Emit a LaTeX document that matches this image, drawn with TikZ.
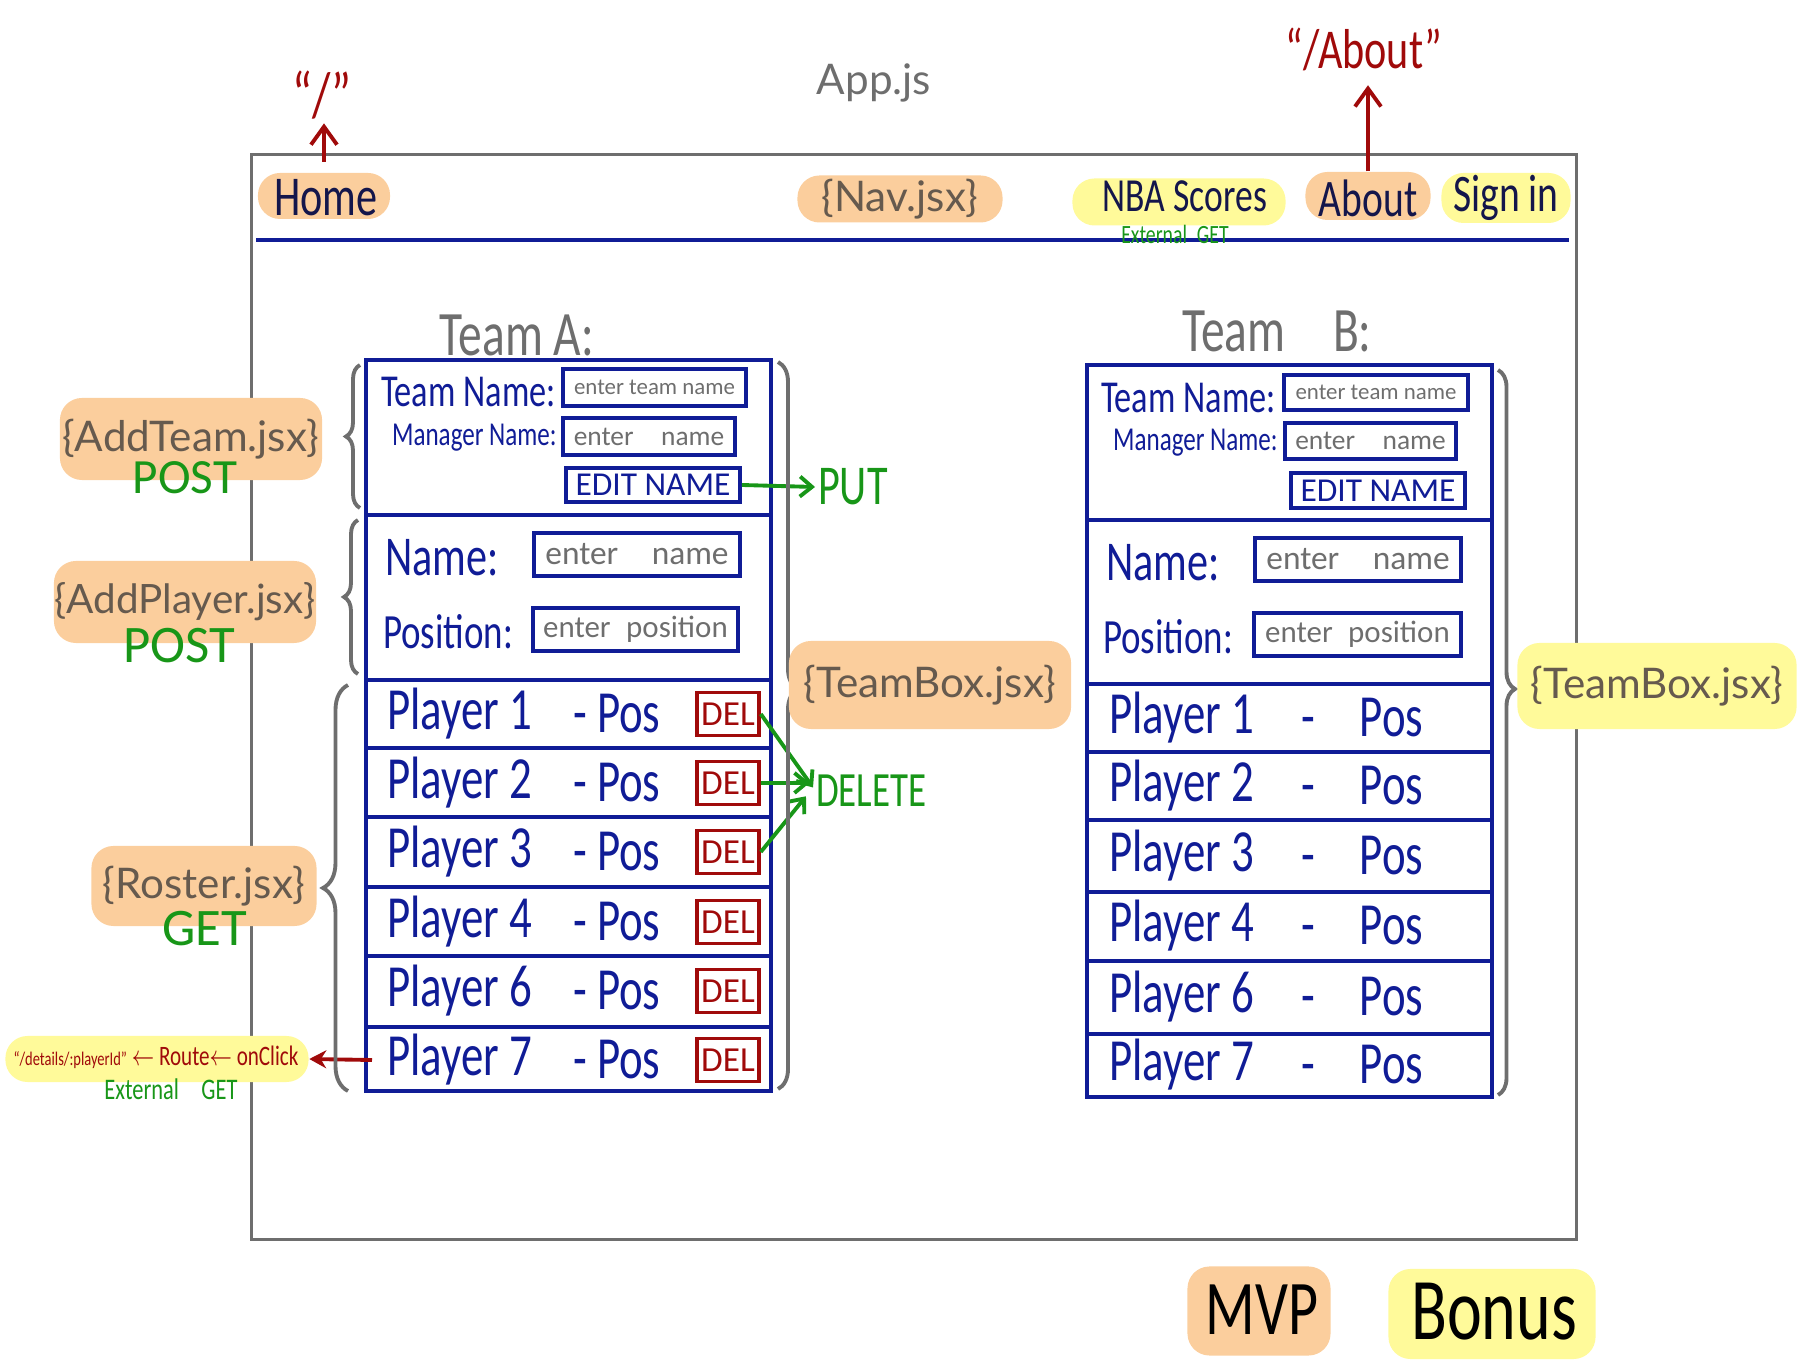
\documentclass[tikz,border=0pt]{standalone}
\usepackage{fontspec}
\setmainfont{Lato}
\newfontfamily\handfont{Carlito}
\usepackage{tikz}
\usetikzlibrary{arrows.meta,decorations.pathreplacing,positioning}
\definecolor{navy}{RGB}{16,28,150}
\definecolor{ink}{RGB}{20,22,75}
\definecolor{pen}{RGB}{160,10,10}
\definecolor{leaf}{RGB}{24,150,24}
\definecolor{peach}{RGB}{251,206,157}
\definecolor{lemon}{RGB}{255,250,154}
\definecolor{slate}{RGB}{110,110,110}
\definecolor{tagtext}{RGB}{102,90,78}
\tikzset{
    pill/.style={rounded corners=0.22cm, inner sep=0pt, text=tagtext, font=\fontsize{12}{14}\selectfont},
    orangepill/.style={pill, fill=peach},
    yellowpill/.style={pill, fill=lemon},
    hand/.style={font=\handfont\fontsize{#1}{#1}\selectfont, inner sep=1pt},
    narrow/.style={xscale=0.75, transform shape},
    inbox/.style={draw=navy, line width=1pt, inner sep=0pt, text=slate},
    delbox/.style={draw=pen, line width=1pt, inner sep=0pt, minimum width=0.62cm, minimum height=0.43cm, text=pen, hand=10},
    boxline/.style={draw=navy, line width=1.1pt},
    curly/.style={decorate, draw=slate, line width=1.1pt},
    greenarrow/.style={-{Straight Barb[length=1.2mm,width=2mm]}, draw=leaf, line width=1.1pt},
    redarrow/.style={-{Straight Barb[length=1.8mm,width=2.6mm]}, draw=pen, line width=1.1pt},
    routearrow/.style={-{Stealth[length=1.7mm,width=1.8mm]}, draw=pen, line width=1.1pt}
}

\begin{document}
\begin{tikzpicture}[x=0.01cm, y=-0.01cm]
    \useasboundingbox (0,0) rectangle (1809,1368);

    % App frame and nav bar
    \node[draw=slate, line width=0.8pt, minimum width=13.25cm, minimum height=10.84cm, inner sep=0pt] (app) at (914,697) {};
    \node[font=\fontsize{12}{14}\selectfont, text=slate] (appjs) at (874,83) {App.js};
    \draw[navy, line width=1.1pt] (256,240) -- (1569,240);

    \node[orangepill, minimum width=1.32cm, minimum height=0.46cm] (home) at (324,196) {};
    \node[hand=16, narrow, text=ink] (hometext) at (326,198) {Home};
    \node[orangepill, minimum width=2.05cm, minimum height=0.47cm] (nav) at (900,199) {\{Nav.jsx\}};
    \node[yellowpill, minimum width=2.13cm, minimum height=0.47cm] (nba) at (1179,202) {};
    \node[hand=13.5, narrow, text=ink, inner sep=0pt] (nbatext) at (1185,196) {NBA Scores};
    \node[hand=7.5, narrow, text=leaf, inner sep=0pt] (nbaget) at (1175,234) {External\enspace GET};
    \node[orangepill, minimum width=1.25cm, minimum height=0.48cm] (about) at (1368,196) {};
    \node[hand=15, narrow, text=ink] (abouttext) at (1368,198) {About};
    \node[yellowpill, minimum width=1.29cm, minimum height=0.50cm] (signin) at (1506,198) {};
    \node[hand=15, narrow, text=ink] (signintext) at (1506,198) {Sign in};

    % Routes
    \node[hand=18, narrow, text=pen] (rootroute) at (322,95) {“/”};
    \draw[redarrow, shorten <=3pt] (home.north) -- (home.north |- rootroute.south);
    \node[hand=16, narrow, text=pen] (aboutroute) at (1364,49) {“/About”};
    \draw[redarrow, shorten >=3pt] (about.north) -- (about.north |- aboutroute.south);

    % Team A
    \node[hand=18, narrow, text=slate] (titleA) at (517,335) {Team A:};
    \node[boxline, minimum width=4.05cm, minimum height=7.31cm, inner sep=0pt] (teamA) at (568.5,725.5) {};
    \foreach \y in {515,680,748,817,887,956,1027}
        \draw[boxline] (366,\y) -- (771,\y);

    \node[hand=13, narrow, text=navy, anchor=west] (tnlabelA) at (378,392) {Team Name:};
    \node[inbox, minimum width=1.83cm, minimum height=0.37cm, hand=6.5] (tnA) at (654.5,387.5) {enter team name};
    \node[hand=9.5, narrow, text=navy, anchor=west] (mnlabelA) at (389,438) {Manager Name:};
    \node[inbox, minimum width=1.72cm, minimum height=0.37cm, hand=7.8] (mnA) at (649,436.5) {enter\quad name};
    \node[inbox, minimum width=1.74cm, minimum height=0.34cm, hand=9.5, text=navy] (editA) at (653,485) {EDIT NAME};
    \node[hand=16, narrow, text=navy, anchor=west] (namelabelA) at (382,558) {Name:};
    \node[inbox, minimum width=2.06cm, minimum height=0.43cm, hand=9.5] (nameA) at (637,554.5) {enter\quad name};
    \node[hand=14, narrow, text=navy, anchor=west] (poslabelA) at (380,632) {Position:};
    \node[inbox, minimum width=2.05cm, minimum height=0.43cm, hand=8.8] (posA) at (635.5,629.5) {enter\enspace position};

    \foreach \i/\y/\p in {1/714/1, 2/783/2, 3/852/3, 4/922/4, 5/991/6, 6/1060/7} {
        \node[hand=17, narrow, text=navy, anchor=west] (playerA\i) at (384,\y) {Player \p};
        \node[hand=17, narrow, text=navy, anchor=west] (roleA\i) at (570,\y) {- Pos};
        \node[delbox] (delA\i) at (728,\y) {DEL};
    }

    % Requests from Team A
    \node[hand=16, narrow, text=leaf, anchor=west] (put) at (815,487) {PUT};
    \draw[greenarrow] (editA.east) -- (put.west);
    \node[hand=14, narrow, text=leaf, anchor=west] (delete) at (813,791) {DELETE};
    \draw[greenarrow] (delA1.east) -- ([yshift=1pt]delete.west);
    \draw[greenarrow] (delA2.east) -- ([xshift=-1pt, yshift=2.3pt]delete.west);
    \draw[greenarrow] (delA3.east) -- ([xshift=-2pt, yshift=-1.5pt]delete.west);

    \node[yellowpill, minimum width=3.03cm, minimum height=0.46cm] (route) at (157,1059) {};
    \node[hand=8, narrow, text=pen] (routetext) at (156,1057) {{\fontsize{5.5}{6}\selectfont “/details/:playerId”} $\leftarrow$ Route$\leftarrow$ onClick};
    \node[hand=8.5, narrow, text=leaf] (routeget) at (171,1089) {External\quad GET};
    \coordinate (clickA) at (372,1060);
    \draw[routearrow] (clickA) -- (route.east);

    % Braces and components
    \draw[curly, decoration={brace, amplitude=0.14cm}] (360,508) -- (360,365);
    \draw[curly, decoration={brace, amplitude=0.14cm}] (358,674) -- (358,520);
    \draw[curly, decoration={brace, amplitude=0.25cm}] (348,1091) -- (348,685);
    \draw[curly, decoration={brace, amplitude=0.2cm, aspect=0.45}] (778,362) -- (778,1089);
    \draw[curly, decoration={brace, amplitude=0.17cm, aspect=0.44}] (1498,370) -- (1498,1095);

    \node[orangepill, minimum width=2.62cm, minimum height=0.82cm] (addteam) at (191,439) {\{AddTeam.jsx\}};
    \node[hand=14, text=leaf] (addteampost) at (185,478) {POST};
    \node[orangepill, minimum width=2.62cm, minimum height=0.82cm, font=\fontsize{11.5}{14}\selectfont] (addplayer) at (185,602) {\{AddPlayer.jsx\}};
    \node[hand=15, text=leaf] (addplayerpost) at (179,646) {POST};
    \node[orangepill, minimum width=2.25cm, minimum height=0.80cm] (roster) at (204,886) {\{Roster.jsx\}};
    \node[hand=15, text=leaf] (rosterget) at (205,929) {GET};
    \node[orangepill, minimum width=2.82cm, minimum height=0.88cm] (teamboxA) at (930,685) {\{TeamBox.jsx\}};
    \node[yellowpill, minimum width=2.79cm, minimum height=0.86cm] (teamboxB) at (1657,686) {\{TeamBox.jsx\}};

    % Team B
    \node[hand=18, narrow, text=slate] (titleB) at (1277,331) {Team\quad B:};
    \node[boxline, minimum width=4.05cm, minimum height=7.32cm, inner sep=0pt] (teamB) at (1289.5,731) {};
    \foreach \y in {520,684,752,820,892,961,1034}
        \draw[boxline] (1087,\y) -- (1492,\y);

    \node[hand=13, narrow, text=navy, anchor=west] (tnlabelB) at (1098,398) {Team Name:};
    \node[inbox, minimum width=1.84cm, minimum height=0.35cm, hand=6.5] (tnB) at (1376,392.5) {enter team name};
    \node[hand=9.5, narrow, text=navy, anchor=west] (mnlabelB) at (1110,443) {Manager Name:};
    \node[inbox, minimum width=1.71cm, minimum height=0.36cm, hand=7.8] (mnB) at (1370.5,441) {enter\quad name};
    \node[inbox, minimum width=1.74cm, minimum height=0.35cm, hand=9.5, text=navy] (editB) at (1378,490.5) {EDIT NAME};
    \node[hand=16, narrow, text=navy, anchor=west] (namelabelB) at (1103,563) {Name:};
    \node[inbox, minimum width=2.06cm, minimum height=0.43cm, hand=9.5] (nameB) at (1358,559.5) {enter\quad name};
    \node[hand=14, narrow, text=navy, anchor=west] (poslabelB) at (1100,637) {Position:};
    \node[inbox, minimum width=2.07cm, minimum height=0.43cm, hand=8.8] (posB) at (1357.5,634.5) {enter\enspace position};

    \foreach \i/\y/\p in {1/718/1, 2/786/2, 3/856/3, 4/926/4, 5/997/6, 6/1065/7} {
        \node[hand=17, narrow, text=navy, anchor=west] (playerB\i) at (1106,\y) {Player \p};
        \node[hand=17, narrow, text=navy, anchor=west] (roleB\i) at (1298,\y) {-\quad Pos};
    }

    % Legend
    \node[orangepill, minimum width=1.43cm, minimum height=0.89cm] (mvp) at (1259,1311) {};
    \node[hand=22, narrow, text=black] (mvptext) at (1262,1310) {MVP};
    \node[yellowpill, minimum width=2.07cm, minimum height=0.90cm] (bonus) at (1492,1314) {};
    \node[hand=25, narrow, text=black] (bonustext) at (1494,1312) {Bonus};

\end{tikzpicture}
\end{document}
